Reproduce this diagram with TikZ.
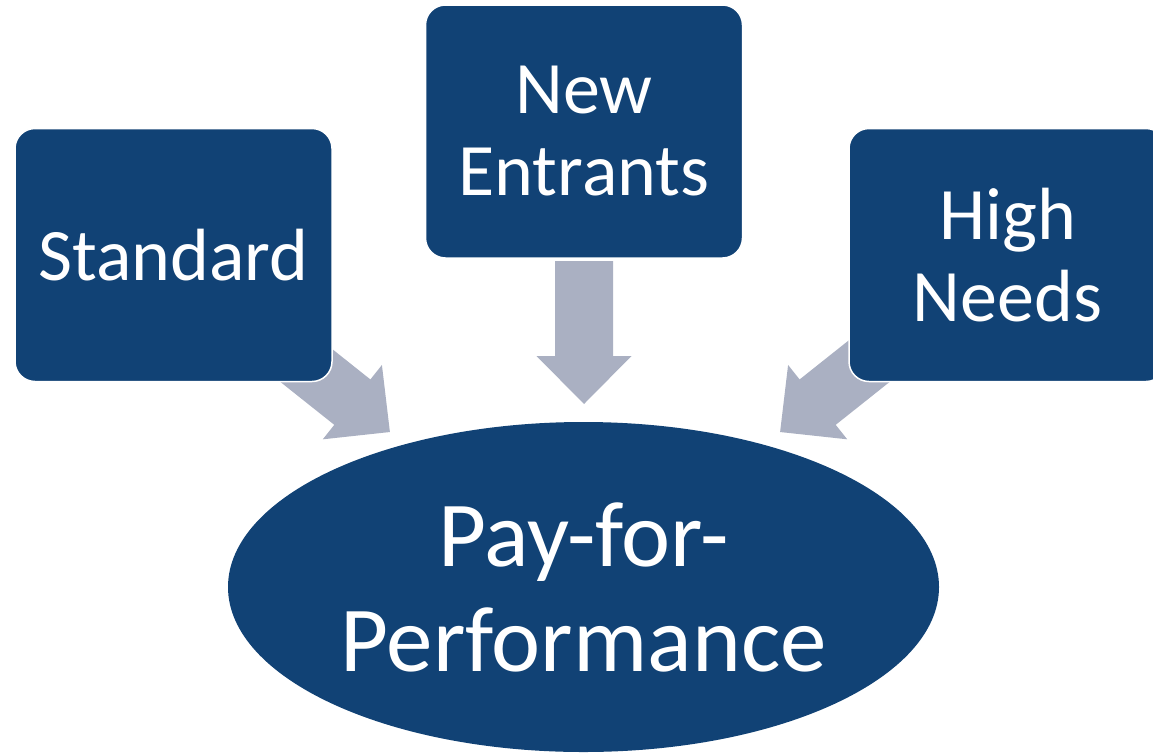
\documentclass[tikz,border=0pt]{standalone}
\usepackage{fontspec}
\setmainfont{Carlito}
\definecolor{boxblue}{RGB}{17,66,117}
\definecolor{arrowgray}{RGB}{170,176,194}
\tikzset{
  boxnode/.style={draw=white, line width=1.5pt, fill=boxblue, rounded corners=20pt,
    minimum width=317pt, minimum height=253pt, text=white, align=center,
    font=\fontsize{74}{82}\selectfont, inner sep=0pt},
  ellnode/.style={ellipse, draw=none, fill=boxblue, minimum width=711pt, minimum height=330pt,
    text=white, align=center, font=\fontsize{93}{105}\selectfont, inner sep=0pt},
  blockarr/.pic={\fill[arrowgray] (0,-29) -- (95,-29) -- (95,-47.5) -- (143,0) -- (95,47.5) -- (95,29) -- (0,29) -- cycle;}
}
\usetikzlibrary{shapes.geometric}
\begin{document}
\begin{tikzpicture}[x=1pt,y=-1pt]
\useasboundingbox (0,0) rectangle (1153,753);
% arrows (behind the boxes)
\coordinate (la) at (278,343);
\coordinate (ma) at (584,261);
\coordinate (ra) at (892,343);
\pic[rotate=-38.5] at (la) {blockarr};
\pic[rotate=-90] at (ma) {blockarr};
\pic[rotate=-141.5] at (ra) {blockarr};
% boxes
\node[boxnode] (std) at (173.5,255) {Standard};
\node[boxnode] (new) at (584,131.5) {New\\Entrants};
\node[boxnode] (high) at (1007.5,255) {High\\Needs};
% ellipse
\node[ellnode] (pfp) at (583.5,587) {Pay-for-\\Performance};
\end{tikzpicture}
\end{document}
